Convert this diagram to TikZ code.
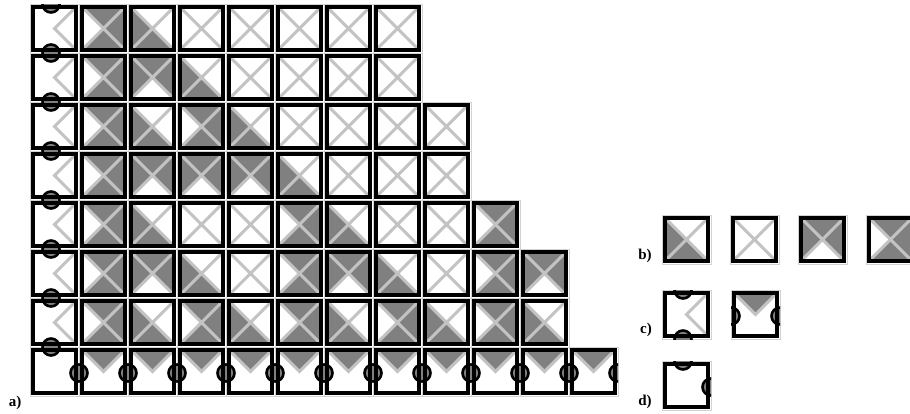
\documentclass[tikz,border=0pt]{standalone}
\usepackage{fontspec}
\setmainfont{Liberation Serif}
\usetikzlibrary{positioning}
\definecolor{tilegray}{RGB}{128,128,128}
\definecolor{diaggray}{RGB}{195,195,195}
\definecolor{gapgray}{RGB}{210,210,210}
\tikzset{
  cellgap/.style  ={draw=gapgray, line width=1pt},
  tileframe/.style={draw=black, line width=3.6pt},
  diag/.style     ={draw=diaggray, line width=3pt},
  half/.style     ={fill=tilegray, draw=black, line width=2.6pt},
  lbl/.style      ={font=\fontsize{15}{15}\selectfont\bfseries, inner sep=0pt},
  % X tile: gray flags for top, right, bottom, left
  pics/xtile/.style n args={4}{code={
    \draw[cellgap] (0,0) rectangle (49,49);
    \fill[white] (1,1) rectangle (48,48);
    \ifnum#1=1 \fill[tilegray] (4,4) -- (45,4) -- (24.5,24.5) -- cycle;\fi
    \ifnum#2=1 \fill[tilegray] (45,4) -- (45,45) -- (24.5,24.5) -- cycle;\fi
    \ifnum#3=1 \fill[tilegray] (4,45) -- (45,45) -- (24.5,24.5) -- cycle;\fi
    \ifnum#4=1 \fill[tilegray] (4,4) -- (4,45) -- (24.5,24.5) -- cycle;\fi
    \draw[diag] (4,4) -- (45,45) (45,4) -- (4,45);
    \draw[tileframe] (2.8,2.8) rectangle (46.2,46.2);
  }},
  pics/tileA/.style={/tikz/pics/xtile={0}{0}{1}{1}},
  pics/tileB/.style={/tikz/pics/xtile={0}{0}{0}{0}},
  pics/tileC/.style={/tikz/pics/xtile={1}{1}{0}{1}},
  pics/tileD/.style={/tikz/pics/xtile={1}{1}{1}{0}},
  % left column tile
  pics/edgeleft/.style={code={
    \draw[cellgap] (0,0) rectangle (49,49);
    \fill[white] (1,1) rectangle (48,48);
    \draw[diag] (45,4) -- (24.5,24.5) -- (45,45);
    \begin{scope}
      \clip (0,0) rectangle (49,49);
      \draw[half] (21,0) circle (8.5) (21,49) circle (8.5);
    \end{scope}
    \draw[tileframe] (2.8,2.8) rectangle (46.2,46.2);
  }},
  % bottom row tile
  pics/edgebottom/.style={code={
    \draw[cellgap] (0,0) rectangle (49,49);
    \fill[white] (1,1) rectangle (48,48);
    \fill[tilegray] (4,4) -- (45,4) -- (24.5,24.5) -- cycle;
    \draw[diag] (4,4) -- (24.5,24.5) -- (45,4);
    \begin{scope}
      \clip (0,0) rectangle (49,49);
      \draw[half] (0,26) circle (8.5) (49,26) circle (8.5);
    \end{scope}
    \draw[tileframe] (2.8,2.8) rectangle (46.2,46.2);
  }},
  % corner tile
  pics/corner/.style={code={
    \draw[cellgap] (0,0) rectangle (49,49);
    \fill[white] (1,1) rectangle (48,48);
    \begin{scope}
      \clip (0,0) rectangle (49,49);
      \draw[half] (21,0) circle (8.5) (49,26) circle (8.5);
    \end{scope}
    \draw[tileframe] (2.8,2.8) rectangle (46.2,46.2);
  }}
}
\begin{document}
\begin{tikzpicture}[x=1pt, y=-1pt]
\fill[white] (0,0) rectangle (910,413);
\useasboundingbox (0,0) rectangle (910,413);

% a) the tiling
\foreach \row [count=\r] in {{D,A,B,B,B,B,B},{D,C,A,B,B,B,B},{D,A,D,A,B,B,B,B},
    {D,C,C,C,A,B,B,B},{D,A,B,B,D,A,B,B,D},{D,C,A,B,D,C,A,B,D,C},
    {D,A,D,A,D,A,D,A,D,A}} {
  \pic at (30,{4+49*(\r-1)}) {edgeleft};
  \foreach \t [count=\c] in \row {
    \pic at ({30+49*\c},{4+49*(\r-1)}) {tile\t};
  }
}
\pic at (30,347) {corner};
\foreach \c in {1,...,11} {
  \pic at ({30+49*\c},347) {edgebottom};
}

% b), c), d) the tile set
\pic at (662,215) {tileA};
\pic at (730,215) {tileB};
\pic at (798,215) {tileC};
\pic at (866,215) {tileD};
\pic at (662,290) {edgeleft};
\pic at (731,290) {edgebottom};
\pic at (662,361) {corner};

\node[lbl] (lbla) at (15,403) {a)};
\node[lbl] (lblb) at (645,256) {b)};
\node[lbl] (lblc) at (646,330) {c)};
\node[lbl] (lbld) at (645,402) {d)};
\end{tikzpicture}
\end{document}
